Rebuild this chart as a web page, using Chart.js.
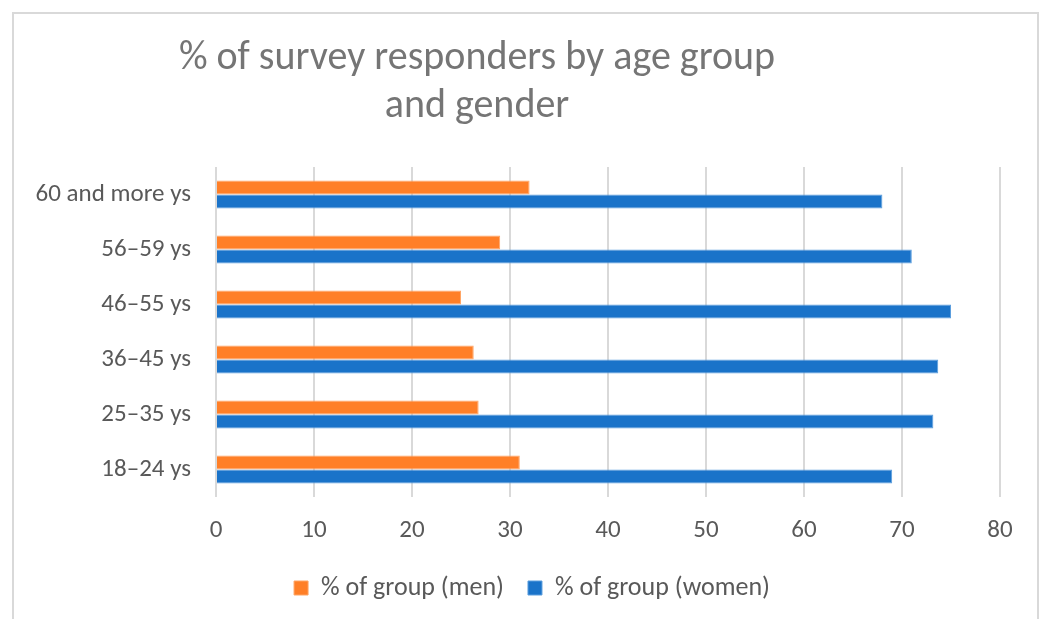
<!DOCTYPE html>
<html>
<head>
<meta charset="utf-8">
<script src="https://cdn.jsdelivr.net/npm/chart.js@4"></script>
<style>
  html, body { margin: 0; padding: 0; background: #fff; }
  #frame {
    position: absolute; left: 12px; top: 12px; width: 1027px; height: 620px;
    border: 2px solid #d9d9d9; border-bottom: none; box-sizing: border-box;
  }
  #title {
    position: absolute; left: 0; top: 32px; width: 954px; text-align: center;
    font-family: Carlito, Lato, 'Liberation Sans', sans-serif;
    font-size: 40px; line-height: 48px; color: #757575;
  }
  #chart { position: absolute; left: 0; top: 0; }
</style>
</head>
<body>
<div id="frame"></div>
<canvas id="chart" width="1045" height="619"></canvas>
<div id="title">% of survey responders by age group<br>and gender</div>
<script>
// Age groups, top to bottom as in the picture
const ageGroups = ['60 and more ys', '56–59 ys', '46–55 ys', '36–45 ys', '25–35 ys', '18–24 ys'];
const menPct = [32, 29, 25, 26.3, 26.8, 31];
const womenPct = [68, 71, 75, 73.7, 73.2, 69];
const xTicks = [0, 10, 20, 30, 40, 50, 60, 70, 80];

const FONT = "Carlito, Lato, 'Liberation Sans', sans-serif";
const GREY = '#595959';

// legend sits a bit right of the plot centre in the original
const legendShift = {
    id: 'legendShift',
    afterLayout(chart) {
        chart.legend.left += 25;
        chart.legend.right += 25;
    }
};

const ctx = document.getElementById('chart').getContext('2d');
new Chart(ctx, {
    type: 'bar',
    data: {
        labels: ageGroups,
        datasets: [
            {
                label: '% of group (men)',
                data: menPct,
                backgroundColor: '#ff7f27',
                borderColor: '#ffa565',
                borderWidth: 1
            },
            {
                label: '% of group (women)',
                data: womenPct,
                backgroundColor: '#1a73c9',
                borderColor: '#5b9ede',
                borderWidth: 1
            }
        ]
    },
    options: {
        indexAxis: 'y',
        responsive: false,
        animation: false,
        layout: { padding: { left: 14, right: 45, top: 167, bottom: 17 } },
        datasets: { bar: { categoryPercentage: 0.51, barPercentage: 1.0 } },
        scales: {
            x: {
                min: 0,
                max: 80,
                afterBuildTicks: (axis) => { axis.ticks = xTicks.map(v => ({ value: v })); },
                afterFit: (axis) => { axis.height = 54; },
                grid: { color: '#d9d9d9', lineWidth: 2, drawTicks: false },
                border: { display: false },
                ticks: { color: GREY, padding: 19, font: { family: FONT, size: 25 } }
            },
            y: {
                afterFit: (axis) => { axis.width = 202; },
                grid: { display: false },
                border: { display: false },
                ticks: { color: GREY, padding: 17, font: { family: FONT, size: 25 } }
            }
        },
        plugins: {
            title: { display: false },
            tooltip: { enabled: false },
            legend: {
                position: 'bottom',
                maxHeight: 51,
                labels: {
                    color: GREY,
                    boxWidth: 14,
                    boxHeight: 14,
                    padding: 24,
                    font: { family: FONT, size: 26 }
                }
            }
        }
    },
    plugins: [legendShift]
});
</script>
</body>
</html>
